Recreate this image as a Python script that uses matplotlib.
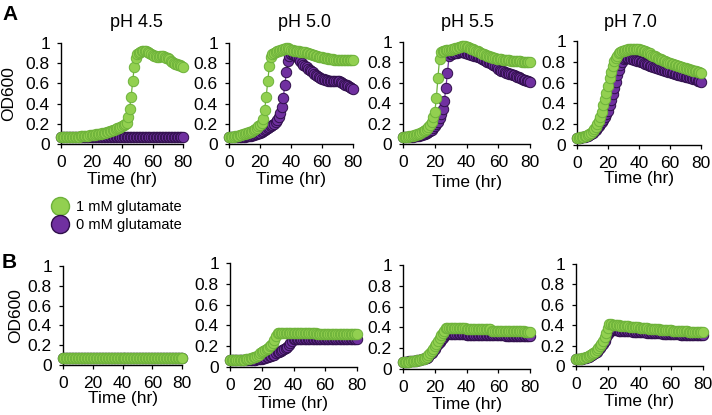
import numpy as np
import matplotlib
matplotlib.use("Agg")
from matplotlib import pyplot as plt
from matplotlib.lines import Line2D

plt.rcParams["font.family"] = ["Liberation Sans", "DejaVu Sans"]

# sampling times (hr)
hours = np.arange(0, 81)

# ---- panel A, OD600, 1 mM glutamate (green) / 0 mM glutamate (purple) ----
a45_glu1 = [0.07, 0.07, 0.07, 0.07, 0.07, 0.07, 0.07, 0.07, 0.07, 0.07,
            0.07, 0.07, 0.07, 0.08, 0.08, 0.08, 0.08, 0.08, 0.08, 0.09,
            0.09, 0.09, 0.09, 0.10, 0.10, 0.10, 0.10, 0.11, 0.11, 0.11,
            0.12, 0.12, 0.13, 0.13, 0.14, 0.14, 0.15, 0.16, 0.16, 0.17,
            0.18, 0.19, 0.20, 0.21, 0.27, 0.35, 0.47, 0.62, 0.76, 0.85,
            0.89, 0.90, 0.91, 0.92, 0.92, 0.92, 0.92, 0.91, 0.90, 0.89,
            0.88, 0.87, 0.87, 0.86, 0.86, 0.87, 0.87, 0.87, 0.86, 0.85,
            0.85, 0.84, 0.82, 0.81, 0.80, 0.79, 0.79, 0.78, 0.78, 0.77,
            0.76]
a45_glu0 = [0.07, 0.07, 0.07, 0.07, 0.07, 0.07, 0.07, 0.07, 0.07, 0.07,
            0.07, 0.07, 0.07, 0.07, 0.07, 0.07, 0.07, 0.07, 0.07, 0.07,
            0.07, 0.07, 0.07, 0.07, 0.07, 0.07, 0.07, 0.07, 0.07, 0.07,
            0.07, 0.07, 0.07, 0.07, 0.07, 0.07, 0.07, 0.07, 0.07, 0.07,
            0.07, 0.07, 0.07, 0.07, 0.07, 0.07, 0.07, 0.07, 0.07, 0.07,
            0.07, 0.07, 0.07, 0.07, 0.07, 0.07, 0.07, 0.07, 0.07, 0.07,
            0.07, 0.07, 0.07, 0.07, 0.07, 0.07, 0.07, 0.07, 0.07, 0.07,
            0.07, 0.07, 0.07, 0.07, 0.07, 0.07, 0.07, 0.07, 0.07, 0.07,
            0.07]
a50_glu1 = [0.07, 0.07, 0.07, 0.07, 0.08, 0.08, 0.08, 0.09, 0.09, 0.10,
            0.10, 0.11, 0.11, 0.12, 0.12, 0.13, 0.14, 0.15, 0.16, 0.18,
            0.19, 0.21, 0.25, 0.34, 0.47, 0.62, 0.77, 0.86, 0.89, 0.90,
            0.91, 0.92, 0.92, 0.93, 0.93, 0.94, 0.94, 0.95, 0.95, 0.94,
            0.93, 0.93, 0.92, 0.92, 0.92, 0.92, 0.91, 0.91, 0.91, 0.91,
            0.90, 0.90, 0.89, 0.89, 0.88, 0.88, 0.87, 0.87, 0.86, 0.86,
            0.86, 0.85, 0.85, 0.85, 0.84, 0.84, 0.84, 0.84, 0.83, 0.83,
            0.83, 0.83, 0.83, 0.83, 0.83, 0.83, 0.83, 0.83, 0.83, 0.83,
            0.83]
a50_glu0 = [0.07, 0.07, 0.07, 0.07, 0.07, 0.07, 0.07, 0.07, 0.07, 0.07,
            0.07, 0.08, 0.08, 0.08, 0.08, 0.09, 0.09, 0.10, 0.10, 0.11,
            0.11, 0.12, 0.13, 0.14, 0.15, 0.16, 0.17, 0.18, 0.19, 0.20,
            0.22, 0.24, 0.27, 0.31, 0.37, 0.46, 0.58, 0.71, 0.82, 0.87,
            0.89, 0.89, 0.88, 0.87, 0.86, 0.84, 0.82, 0.80, 0.78, 0.77,
            0.76, 0.74, 0.73, 0.72, 0.71, 0.69, 0.68, 0.67, 0.66, 0.65,
            0.64, 0.64, 0.63, 0.63, 0.62, 0.62, 0.62, 0.62, 0.62, 0.62,
            0.62, 0.62, 0.61, 0.60, 0.59, 0.58, 0.58, 0.57, 0.56, 0.55,
            0.54]
a55_glu1 = [0.07, 0.07, 0.07, 0.07, 0.08, 0.08, 0.08, 0.09, 0.09, 0.10,
            0.10, 0.11, 0.12, 0.13, 0.14, 0.15, 0.17, 0.19, 0.22, 0.26,
            0.31, 0.45, 0.65, 0.83, 0.90, 0.91, 0.91, 0.92, 0.92, 0.92,
            0.92, 0.93, 0.93, 0.94, 0.94, 0.95, 0.95, 0.96, 0.96, 0.96,
            0.95, 0.95, 0.94, 0.93, 0.93, 0.92, 0.91, 0.91, 0.90, 0.89,
            0.88, 0.88, 0.87, 0.86, 0.86, 0.85, 0.85, 0.84, 0.84, 0.83,
            0.83, 0.83, 0.83, 0.82, 0.82, 0.82, 0.82, 0.82, 0.81, 0.81,
            0.81, 0.81, 0.81, 0.81, 0.81, 0.80, 0.80, 0.80, 0.80, 0.80,
            0.80]
a55_glu0 = [0.07, 0.07, 0.07, 0.07, 0.07, 0.07, 0.07, 0.08, 0.08, 0.08,
            0.08, 0.09, 0.09, 0.10, 0.10, 0.11, 0.12, 0.13, 0.14, 0.16,
            0.18, 0.20, 0.22, 0.25, 0.29, 0.34, 0.42, 0.55, 0.70, 0.86,
            0.88, 0.88, 0.89, 0.89, 0.89, 0.90, 0.90, 0.90, 0.90, 0.89,
            0.89, 0.88, 0.88, 0.87, 0.87, 0.86, 0.86, 0.85, 0.85, 0.84,
            0.83, 0.82, 0.81, 0.80, 0.80, 0.79, 0.78, 0.77, 0.76, 0.75,
            0.74, 0.73, 0.72, 0.72, 0.71, 0.70, 0.70, 0.69, 0.69, 0.68,
            0.68, 0.67, 0.66, 0.66, 0.65, 0.64, 0.63, 0.63, 0.62, 0.62,
            0.61]
a70_glu1 = [0.07, 0.07, 0.08, 0.08, 0.08, 0.09, 0.09, 0.10, 0.11, 0.12,
            0.13, 0.15, 0.17, 0.20, 0.23, 0.27, 0.32, 0.38, 0.44, 0.50,
            0.57, 0.64, 0.70, 0.76, 0.81, 0.84, 0.86, 0.88, 0.89, 0.90,
            0.90, 0.91, 0.91, 0.92, 0.92, 0.92, 0.92, 0.92, 0.92, 0.92,
            0.92, 0.91, 0.91, 0.90, 0.90, 0.89, 0.88, 0.88, 0.87, 0.86,
            0.86, 0.85, 0.84, 0.83, 0.83, 0.82, 0.81, 0.81, 0.80, 0.79,
            0.79, 0.78, 0.78, 0.77, 0.77, 0.76, 0.76, 0.75, 0.75, 0.74,
            0.74, 0.73, 0.73, 0.72, 0.72, 0.71, 0.71, 0.71, 0.70, 0.70,
            0.69]
a70_glu0 = [0.07, 0.07, 0.07, 0.08, 0.08, 0.08, 0.09, 0.09, 0.10, 0.11,
            0.12, 0.13, 0.14, 0.16, 0.18, 0.20, 0.22, 0.24, 0.27, 0.30,
            0.33, 0.38, 0.43, 0.49, 0.55, 0.61, 0.67, 0.72, 0.77, 0.80,
            0.83, 0.84, 0.84, 0.84, 0.84, 0.83, 0.83, 0.82, 0.82, 0.81,
            0.81, 0.80, 0.80, 0.79, 0.78, 0.78, 0.77, 0.76, 0.76, 0.75,
            0.75, 0.74, 0.74, 0.73, 0.73, 0.72, 0.72, 0.71, 0.71, 0.70,
            0.70, 0.69, 0.69, 0.68, 0.68, 0.67, 0.67, 0.67, 0.66, 0.66,
            0.65, 0.65, 0.65, 0.64, 0.64, 0.63, 0.63, 0.63, 0.62, 0.62,
            0.61]

# ---- panel B ----
b45_glu1 = [0.07, 0.07, 0.07, 0.07, 0.07, 0.07, 0.07, 0.07, 0.07, 0.07,
            0.07, 0.07, 0.07, 0.07, 0.07, 0.07, 0.07, 0.07, 0.07, 0.07,
            0.07, 0.07, 0.07, 0.07, 0.07, 0.07, 0.07, 0.07, 0.07, 0.07,
            0.07, 0.07, 0.07, 0.07, 0.07, 0.07, 0.07, 0.07, 0.07, 0.07,
            0.07, 0.07, 0.07, 0.07, 0.07, 0.07, 0.07, 0.07, 0.07, 0.07,
            0.07, 0.07, 0.07, 0.07, 0.07, 0.07, 0.07, 0.07, 0.07, 0.07,
            0.07, 0.07, 0.07, 0.07, 0.07, 0.07, 0.07, 0.07, 0.07, 0.07,
            0.07, 0.07, 0.07, 0.07, 0.07, 0.07, 0.07, 0.07, 0.07, 0.07,
            0.07]
b45_glu0 = [0.07, 0.07, 0.07, 0.07, 0.07, 0.07, 0.07, 0.07, 0.07, 0.07,
            0.07, 0.07, 0.07, 0.07, 0.07, 0.07, 0.07, 0.07, 0.07, 0.07,
            0.07, 0.07, 0.07, 0.07, 0.07, 0.07, 0.07, 0.07, 0.07, 0.07,
            0.07, 0.07, 0.07, 0.07, 0.07, 0.07, 0.07, 0.07, 0.07, 0.07,
            0.07, 0.07, 0.07, 0.07, 0.07, 0.07, 0.07, 0.07, 0.07, 0.07,
            0.07, 0.07, 0.07, 0.07, 0.07, 0.07, 0.07, 0.07, 0.07, 0.07,
            0.07, 0.07, 0.07, 0.07, 0.07, 0.07, 0.07, 0.07, 0.07, 0.07,
            0.07, 0.07, 0.07, 0.07, 0.07, 0.07, 0.07, 0.07, 0.07, 0.07,
            0.07]
b50_glu1 = [0.07, 0.07, 0.07, 0.07, 0.07, 0.07, 0.07, 0.07, 0.07, 0.07,
            0.08, 0.08, 0.08, 0.09, 0.09, 0.10, 0.10, 0.11, 0.12, 0.13,
            0.14, 0.15, 0.16, 0.17, 0.18, 0.20, 0.21, 0.23, 0.26, 0.30,
            0.33, 0.33, 0.33, 0.33, 0.33, 0.33, 0.33, 0.33, 0.33, 0.33,
            0.33, 0.33, 0.33, 0.33, 0.33, 0.33, 0.33, 0.33, 0.33, 0.33,
            0.33, 0.33, 0.33, 0.33, 0.33, 0.32, 0.32, 0.32, 0.32, 0.32,
            0.32, 0.32, 0.32, 0.32, 0.32, 0.32, 0.32, 0.32, 0.32, 0.32,
            0.32, 0.32, 0.32, 0.32, 0.32, 0.32, 0.32, 0.32, 0.32, 0.32,
            0.32]
b50_glu0 = [0.07, 0.07, 0.07, 0.07, 0.07, 0.07, 0.07, 0.07, 0.07, 0.07,
            0.07, 0.07, 0.07, 0.07, 0.07, 0.07, 0.07, 0.08, 0.08, 0.08,
            0.08, 0.09, 0.09, 0.10, 0.10, 0.11, 0.11, 0.12, 0.12, 0.13,
            0.14, 0.14, 0.15, 0.16, 0.17, 0.18, 0.19, 0.21, 0.23, 0.25,
            0.27, 0.27, 0.27, 0.27, 0.27, 0.27, 0.27, 0.27, 0.27, 0.27,
            0.27, 0.27, 0.27, 0.27, 0.27, 0.27, 0.27, 0.27, 0.27, 0.27,
            0.27, 0.27, 0.27, 0.27, 0.27, 0.27, 0.27, 0.27, 0.27, 0.27,
            0.27, 0.27, 0.27, 0.27, 0.27, 0.27, 0.27, 0.27, 0.27, 0.27,
            0.27]
b55_glu1 = [0.07, 0.07, 0.07, 0.07, 0.07, 0.08, 0.08, 0.08, 0.08, 0.09,
            0.09, 0.09, 0.10, 0.10, 0.11, 0.12, 0.13, 0.15, 0.17, 0.19,
            0.22, 0.24, 0.27, 0.30, 0.33, 0.35, 0.37, 0.39, 0.39, 0.39,
            0.39, 0.39, 0.39, 0.39, 0.39, 0.39, 0.39, 0.39, 0.39, 0.39,
            0.38, 0.38, 0.38, 0.38, 0.38, 0.38, 0.38, 0.38, 0.38, 0.38,
            0.38, 0.38, 0.38, 0.38, 0.38, 0.38, 0.37, 0.37, 0.37, 0.37,
            0.37, 0.37, 0.37, 0.37, 0.37, 0.37, 0.37, 0.37, 0.37, 0.37,
            0.37, 0.37, 0.37, 0.37, 0.37, 0.37, 0.37, 0.36, 0.36, 0.36,
            0.36]
b55_glu0 = [0.07, 0.07, 0.07, 0.07, 0.08, 0.08, 0.08, 0.08, 0.08, 0.09,
            0.09, 0.09, 0.10, 0.10, 0.11, 0.11, 0.12, 0.14, 0.15, 0.17,
            0.19, 0.22, 0.24, 0.26, 0.28, 0.30, 0.32, 0.34, 0.34, 0.34,
            0.34, 0.34, 0.34, 0.34, 0.34, 0.34, 0.34, 0.34, 0.34, 0.34,
            0.33, 0.33, 0.33, 0.33, 0.33, 0.33, 0.33, 0.33, 0.33, 0.33,
            0.33, 0.33, 0.33, 0.33, 0.33, 0.33, 0.33, 0.33, 0.33, 0.33,
            0.33, 0.33, 0.33, 0.33, 0.33, 0.32, 0.32, 0.32, 0.32, 0.32,
            0.32, 0.32, 0.32, 0.32, 0.32, 0.32, 0.32, 0.32, 0.32, 0.32,
            0.32]
b70_glu1 = [0.07, 0.07, 0.07, 0.07, 0.08, 0.08, 0.09, 0.09, 0.10, 0.11,
            0.12, 0.13, 0.14, 0.16, 0.18, 0.20, 0.22, 0.25, 0.28, 0.32,
            0.37, 0.41, 0.41, 0.40, 0.40, 0.40, 0.40, 0.40, 0.39, 0.39,
            0.39, 0.39, 0.39, 0.39, 0.38, 0.38, 0.38, 0.38, 0.38, 0.38,
            0.37, 0.37, 0.37, 0.37, 0.37, 0.37, 0.36, 0.36, 0.36, 0.36,
            0.36, 0.36, 0.36, 0.35, 0.35, 0.35, 0.35, 0.35, 0.35, 0.35,
            0.35, 0.34, 0.34, 0.34, 0.34, 0.34, 0.34, 0.34, 0.34, 0.34,
            0.34, 0.33, 0.33, 0.33, 0.33, 0.33, 0.33, 0.33, 0.33, 0.33,
            0.33]
b70_glu0 = [0.07, 0.07, 0.07, 0.07, 0.07, 0.08, 0.08, 0.09, 0.09, 0.10,
            0.11, 0.12, 0.13, 0.14, 0.16, 0.18, 0.20, 0.22, 0.25, 0.28,
            0.31, 0.33, 0.35, 0.35, 0.35, 0.35, 0.35, 0.34, 0.34, 0.34,
            0.34, 0.34, 0.34, 0.34, 0.34, 0.34, 0.33, 0.33, 0.33, 0.33,
            0.33, 0.33, 0.33, 0.33, 0.33, 0.32, 0.32, 0.32, 0.32, 0.32,
            0.32, 0.32, 0.32, 0.32, 0.32, 0.31, 0.31, 0.31, 0.31, 0.31,
            0.31, 0.31, 0.31, 0.31, 0.31, 0.31, 0.30, 0.30, 0.30, 0.30,
            0.30, 0.30, 0.30, 0.30, 0.30, 0.30, 0.30, 0.30, 0.30, 0.30,
            0.30]

ph_labels = ["pH 4.5", "pH 5.0", "pH 5.5", "pH 7.0"]
legend_labels = ["1 mM glutamate", "0 mM glutamate"]
x_ticks = [0, 20, 40, 60, 80]
y_ticks = [0, 0.2, 0.4, 0.6, 0.8, 1]
y_tick_labels = ["0", "0.2", "0.4", "0.6", "0.8", "1"]

panel_a = [(a45_glu1, a45_glu0), (a50_glu1, a50_glu0),
           (a55_glu1, a55_glu0), (a70_glu1, a70_glu0)]
panel_b = [(b45_glu1, b45_glu0), (b50_glu1, b50_glu0),
           (b55_glu1, b55_glu0), (b70_glu1, b70_glu0)]

GREEN, GREEN_EDGE = "#92D050", "#6DB23A"
PURPLE, PURPLE_EDGE = "#7030A0", "#2F0F4A"
FS = 12.5

W, H = 712, 415


def px_rect(left, right, top, bottom):
    return [left / W, 1 - bottom / H, (right - left) / W, (bottom - top) / H]


a_rects = [px_rect(61, 183, 43, 144), px_rect(229, 353, 43, 144),
           px_rect(403, 530, 42, 144), px_rect(577, 701, 41, 145)]
b_rects = [px_rect(63, 182, 266, 365), px_rect(230, 357, 263, 367),
           px_rect(403, 530, 265, 369), px_rect(576, 703, 264, 366)]
a_xlabel_y = [-0.28, -0.28, -0.30, -0.25]
b_xlabel_y = [-0.265, -0.275, -0.27, -0.27]
ylabel_x = [-0.43, -0.40]
title_x = [136, 304, 467, 630]


def draw_panel(ax, glu1, glu0, xlabel_y, ylabel_pos=None):
    ax.plot(hours, glu0, "-o", color=PURPLE, lw=0.9, ms=7.5, mfc=PURPLE,
            mec=PURPLE_EDGE, mew=0.7, clip_on=False, zorder=3)
    ax.plot(hours, glu1, "-o", color=GREEN_EDGE, lw=0.9, ms=7.5, mfc=GREEN,
            mec=GREEN_EDGE, mew=0.7, clip_on=False, zorder=4)
    ax.set_xlim(0, 80)
    ax.set_ylim(0, 1)
    ax.set_xticks(x_ticks)
    ax.set_yticks(y_ticks)
    ax.set_yticklabels(y_tick_labels)
    for side in ("top", "right"):
        ax.spines[side].set_visible(False)
    for side in ("left", "bottom"):
        ax.spines[side].set_linewidth(1.0)
    ax.tick_params(direction="out", length=3, width=0.9, labelsize=FS)
    ax.tick_params(axis="x", pad=5)
    ax.tick_params(axis="y", pad=5)
    ax.set_xlabel("Time (hr)", fontsize=FS)
    ax.xaxis.set_label_coords(0.5, xlabel_y)
    ax.xaxis.label.set_va("top")
    if ylabel_pos is not None:
        ax.set_ylabel("OD600", fontsize=FS)
        ax.yaxis.set_label_coords(ylabel_pos, 0.5)
        ax.yaxis.label.set_va("center")


def main():
    fig = plt.figure(figsize=(W / 100, H / 100), dpi=100)

    for i, (glu1, glu0) in enumerate(panel_a):
        ax = fig.add_axes(a_rects[i])
        draw_panel(ax, glu1, glu0, a_xlabel_y[i], ylabel_x[0] if i == 0 else None)
        fig.text(title_x[i] / W, 1 - 27 / H, ph_labels[i], ha="center",
                 va="baseline", fontsize=FS + 0.5)

    for i, (glu1, glu0) in enumerate(panel_b):
        ax = fig.add_axes(b_rects[i])
        draw_panel(ax, glu1, glu0, b_xlabel_y[i], ylabel_x[1] if i == 0 else None)

    fig.text(2 / W, 1 - 5 / H, "A", fontsize=15, fontweight="bold", va="top")
    fig.text(2 / W, 1 - 253 / H, "B", fontsize=15, fontweight="bold", va="top")

    handles = [
        Line2D([], [], ls="none", marker="o", ms=13, mfc=GREEN,
               mec=GREEN_EDGE, mew=1.0),
        Line2D([], [], ls="none", marker="o", ms=13, mfc=PURPLE,
               mec=PURPLE_EDGE, mew=1.0),
    ]
    fig.legend(handles, legend_labels, loc="upper left",
               bbox_to_anchor=(50 / W, 1 - 200 / H), frameon=False,
               fontsize=10.5, handlelength=1.4, handletextpad=0.4,
               labelspacing=0.25, borderpad=0, borderaxespad=0)

    fig.savefig("out.png", dpi=100)


if __name__ == "__main__":
    main()
